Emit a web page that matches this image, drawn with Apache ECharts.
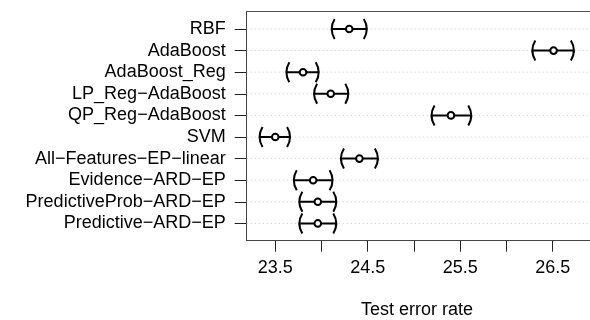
<!DOCTYPE html>
<html><head><meta charset="utf-8">
<script src="https://cdn.jsdelivr.net/npm/echarts@6/dist/echarts.min.js"></script>
<style>html,body{margin:0;padding:0;background:#fff}#c{width:590px;height:320px}</style>
</head><body><div id="c"></div>
<script>
const methods = ['RBF', 'AdaBoost', 'AdaBoost_Reg', 'LP_Reg\u2212AdaBoost', 'QP_Reg\u2212AdaBoost', 'SVM',
  'All\u2212Features\u2212EP\u2212linear', 'Evidence\u2212ARD\u2212EP', 'PredictiveProb\u2212ARD\u2212EP', 'Predictive\u2212ARD\u2212EP'];
const centers = [24.30, 26.51, 23.80, 24.10, 25.40, 23.50, 24.41, 23.91, 23.96, 23.96];
const lower   = [24.11, 26.28, 23.62, 23.92, 25.19, 23.33, 24.21, 23.70, 23.76, 23.76];
const upper   = [24.49, 26.73, 23.97, 24.29, 25.62, 23.66, 24.61, 24.12, 24.16, 24.16];
const xTicks = [23.5, 24, 24.5, 25, 25.5, 26, 26.5];
const xLabels = [23.5, 24.5, 25.5, 26.5];
const xTitle = 'Test error rate';

const X_MIN = 23.191, X_MAX = 26.904;
const FONT = 'Liberation Sans, Arial, Helvetica, sans-serif';
const FS = 18;
const chart = echarts.init(document.getElementById('c'), null, {renderer: 'canvas'});
const data = methods.map((m, i) => [centers[i], lower[i], upper[i], i + 1]);

chart.setOption({
  animation: false,
  grid: {left: 246.7, top: 11.7, bottom: 79.3, width: 348.3, show: false},
  xAxis: [{
    type: 'value', min: X_MIN, max: X_MAX,
    axisLine: {show: true, lineStyle: {color: '#444', width: 1}},
    axisTick: {show: true, customValues: xTicks, length: 11, lineStyle: {color: '#222'}},
    axisLabel: {customValues: xLabels, margin: 18, color: '#000', fontSize: FS, fontFamily: FONT},
    splitLine: {show: false}
  }, {
    type: 'value', position: 'top', min: X_MIN, max: X_MAX,
    axisLine: {show: true, onZero: false, lineStyle: {color: '#555', width: 1}},
    axisTick: {show: false}, axisLabel: {show: false}, splitLine: {show: false}
  }],
  yAxis: {
    type: 'value', inverse: true, min: 0.2, max: 10.8,
    axisLine: {show: true, lineStyle: {color: '#444', width: 1}},
    axisTick: {show: true, customValues: methods.map((m, i) => i + 1), length: 12, lineStyle: {color: '#222'}},
    axisLabel: {customValues: methods.map((m, i) => i + 1), formatter: v => methods[Math.round(v) - 1],
      margin: 21, color: '#000', fontSize: FS, fontFamily: FONT},
    splitLine: {show: false}
  },
  graphic: [{type: 'text', x: 417, y: 310, style: {text: xTitle, align: 'center', verticalAlign: 'middle', fontSize: FS, fontFamily: FONT, fill: '#000'}}],
  series: [{
    type: 'custom',
    data: data,
    encode: {x: [0, 1, 2], y: 3},
    renderItem: function (params, api) {
      const y = api.value(3);
      const c = api.coord([api.value(0), y]);
      const l = api.coord([api.value(1), y]);
      const r = api.coord([api.value(2), y]);
      const a = api.coord([X_MIN, y]);
      const b = api.coord([X_MAX, y]);
      const yy = c[1], h = 10, d = 3;
      const stroke = {stroke: '#000', lineWidth: 2, fill: 'none'};
      return {type: 'group', children: [
        {type: 'line', shape: {x1: a[0], y1: yy, x2: b[0], y2: yy}, style: {stroke: '#c8c8c8', lineWidth: 1, lineDash: [1, 3]}},
        {type: 'line', shape: {x1: l[0], y1: yy, x2: r[0], y2: yy}, style: stroke},
        {type: 'bezierCurve', shape: {x1: l[0] + d, y1: yy - h, cpx1: l[0] - d, cpy1: yy, x2: l[0] + d, y2: yy + h}, style: stroke},
        {type: 'bezierCurve', shape: {x1: r[0] - d, y1: yy - h, cpx1: r[0] + d, cpy1: yy, x2: r[0] - d, y2: yy + h}, style: stroke},
        {type: 'circle', shape: {cx: c[0], cy: yy, r: 3.3}, style: {fill: '#fff', stroke: '#000', lineWidth: 2}}
      ]};
    }
  }]
});
</script></body></html>
